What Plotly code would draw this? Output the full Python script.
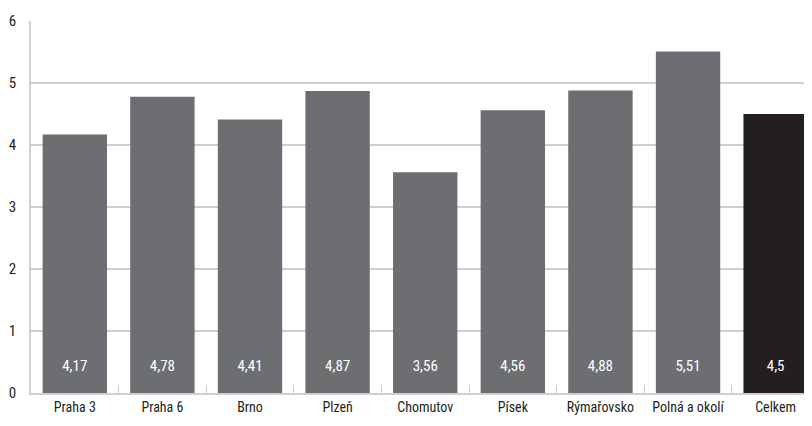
import plotly.graph_objects as go

categories = ["Praha 3", "Praha 6", "Brno", "Plzeň", "Chomutov", "Písek", "Rýmařovsko", "Polná a okolí", "Celkem"]
values = [4.17, 4.78, 4.41, 4.87, 3.56, 4.56, 4.88, 5.51, 4.5]
labels = ["4,17", "4,78", "4,41", "4,87", "3,56", "4,56", "4,88", "5,51", "4,5"]
y_ticks = [0, 1, 2, 3, 4, 5, 6]

FONT = "Liberation Sans Narrow, Roboto Condensed, DejaVu Sans Condensed, sans-serif"
colors = ["#6d6e71"] * (len(categories) - 1) + ["#231f20"]

fig = go.Figure()
fig.add_trace(go.Bar(x=categories, y=values, marker=dict(color=colors, line=dict(width=0)),
                     hoverinfo="skip"))
fig.add_trace(go.Scatter(x=categories, y=[0.42] * len(categories), mode="text", text=labels,
                         textfont=dict(color="white", size=15, family=FONT), hoverinfo="skip"))

fig.update_layout(
    width=804, height=410,
    margin=dict(l=23, r=0, t=13, b=25),
    plot_bgcolor="white", paper_bgcolor="white",
    showlegend=False, bargap=0.265,
    font=dict(family=FONT, size=14, color="#231f20"),
    xaxis=dict(showgrid=False, showline=True, linecolor="#cfcfcf", linewidth=1.5,
               range=[-0.5, 8.415],
               ticks="inside", tickson="boundaries", ticklen=8, tickcolor="#cfcfcf",
               tickfont=dict(size=14), fixedrange=True),
    yaxis=dict(range=[0, 6], tickvals=y_ticks, showgrid=True, gridcolor="#cfcfcf", gridwidth=1.5,
               showline=True, linecolor="#cfcfcf", linewidth=1.5, zeroline=False,
               ticks="", ticklabelstandoff=10, tickfont=dict(size=15)),
)

fig.write_html("out.html")
